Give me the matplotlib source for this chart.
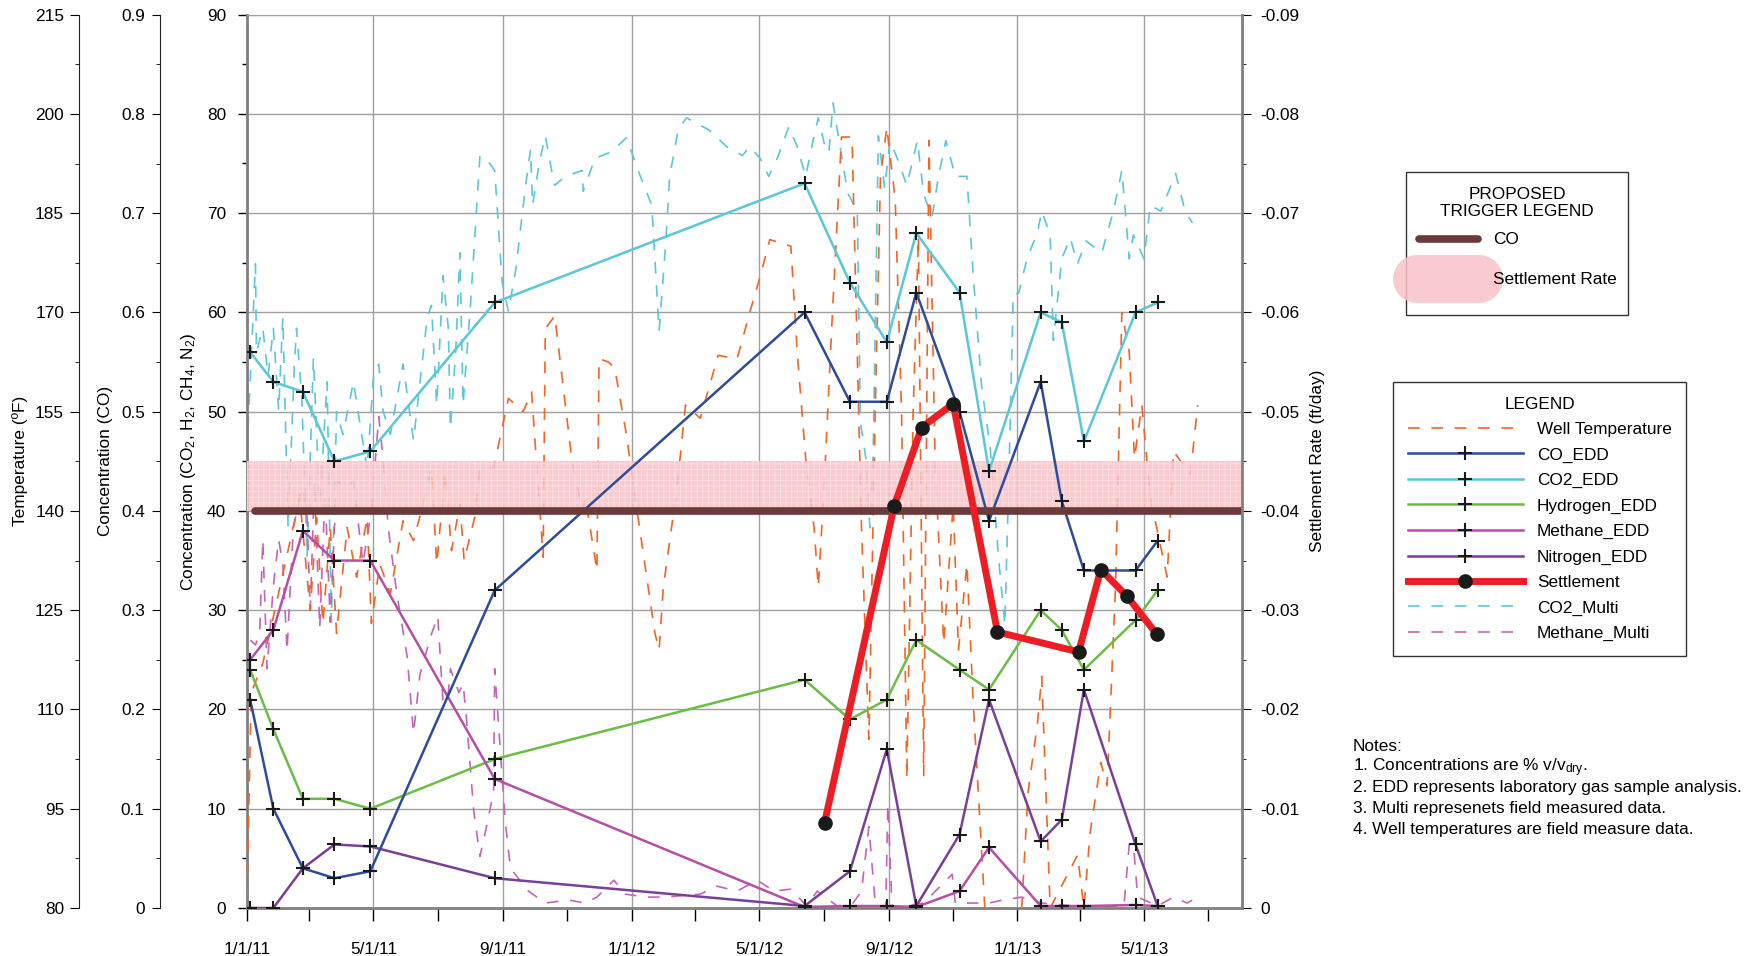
import matplotlib
matplotlib.use('Agg')
import matplotlib.pyplot as plt
import matplotlib.dates as mdates
from matplotlib.lines import Line2D
from matplotlib.patches import Rectangle
from matplotlib.ticker import MultipleLocator, FuncFormatter
import pandas as pd

plt.rcParams['font.family'] = ['Liberation Sans', 'DejaVu Sans']
plt.rcParams['mathtext.default'] = 'regular'
plt.rcParams['axes.unicode_minus'] = False
plt.rcParams['hatch.linewidth'] = 0.6

# ---- laboratory samples (EDD) ----
edd_dates = ['2011-01-04', '2011-01-26', '2011-02-23', '2011-03-25', '2011-04-28', '2011-08-24',
             '2012-06-13', '2012-07-26', '2012-08-30', '2012-09-27', '2012-11-07', '2012-12-05',
             '2013-01-23', '2013-02-12', '2013-03-05', '2013-04-23', '2013-05-14']
co_edd = [0.21, 0.10, 0.04, 0.03, 0.037, 0.32, 0.60, 0.51, 0.51, 0.62, 0.50, 0.39, 0.53, 0.41, 0.34, 0.34, 0.37]
co2_edd = [56, 53, 52, 45, 46, 61, 73, 63, 57, 68, 62, 44, 60, 59, 47, 60, 61]
h2_edd = [24, 18, 11, 11, 10, 15, 23, 19, 21, 27, 24, 22, 30, 28, 24, 29, 32]
ch4_edd = [25, 28, 38, 35, 35, 13, 0.1, 0.2, 0.2, 0.1, 1.7, 6.1, 0.2, 0.2, 0.2, 0.3, 0.2]
n2_edd = [0, 0, 4, 6.4, 6.2, 3, 0.2, 3.7, 16, 0.2, 7.4, 21, 6.7, 8.9, 22, 6.4, 0.2]

# ---- settlement rate (ft/day) ----
settle_dates = ['2012-07-02', '2012-09-06', '2012-10-02', '2012-11-01', '2012-12-13',
                '2013-02-28', '2013-03-21', '2013-04-15', '2013-05-13']
settle_rate = [-0.0086, -0.0405, -0.0484, -0.0508, -0.0278, -0.0258, -0.0341, -0.0314, -0.0276]

# ---- proposed triggers ----
co_trigger = 0.4
settle_trigger = (-0.045, -0.04)

# ---- field data, days after 1/1/11 ----
well_day = [0, 4, 15, 25, 50, 60, 66, 72, 79, 85, 95, 104, 114, 118, 126, 136, 148, 158, 171, 175,
            180, 188, 194, 202, 206, 216, 221, 234, 248, 262, 270, 275, 281, 283, 292, 308, 318, 321,
            332, 334, 343, 349, 360, 371, 387, 391, 395, 408, 416, 430, 447, 465, 477, 487, 496, 516,
            522, 530, 538, 542, 547, 555, 564, 574, 583, 590, 596, 601, 607, 615, 621, 626, 632, 637,
            642, 647, 653, 661, 670, 675, 683, 689, 700, 715, 735, 741, 750, 754, 762, 788, 794, 800,
            810, 816, 824, 830, 837, 842, 849, 857, 873, 879, 895, 902]
well_temp = [81.5, 112.5, 117, 124, 142, 125, 139, 123, 137.5, 121.5, 137.5, 130, 139, 123, 132, 127.5,
             138.5, 135.5, 143.5, 146.5, 132, 146, 134, 141, 132.5, 139, 146.5, 146.5, 157, 155, 158,
             146.5, 133, 167.5, 169.5, 148, 140, 142, 131, 163, 162.5, 161.5, 151.5, 139, 121.5, 119,
             128.5, 143.5, 156, 154, 163.5, 163, 170, 175.5, 181, 180, 164, 148, 137.5, 128.5, 142,
             168.5, 196.5, 196.5, 137.5, 105.5, 155, 190.5, 198, 187, 155, 99.5, 155, 181.5, 100, 196,
             146.5, 120, 141, 119, 132, 111, 80, 80, 80, 97.5, 108, 115, 80, 88, 80, 91.5, 102, 98.5,
             128.5, 170, 164, 148, 156, 142, 130, 149, 145.5, 156]

co2_multi_day = [0, 3, 8, 9, 15, 20, 25, 30, 34, 39, 45, 47, 52, 57, 63, 69, 76, 80, 85, 91, 101, 107,
                 114, 120, 125, 129, 136, 148, 158, 171, 175, 180, 186, 191, 193, 198, 202, 205, 212,
                 221, 229, 235, 242, 248, 255, 264, 269, 271, 277, 283, 289, 292, 302, 318, 319, 330,
                 346, 360, 371, 384, 391, 397, 401, 409, 417, 438, 455, 470, 477, 487, 495, 503, 514,
                 522, 530, 538, 542, 549, 552, 556, 560, 570, 579, 582, 587, 591, 594, 599, 605, 610,
                 617, 626, 636, 642, 650, 656, 663, 672, 683, 689, 697, 705, 713, 719, 723, 727, 732,
                 740, 750, 754, 762, 765, 773, 781, 788, 796, 811, 822, 830, 837, 841, 851, 857, 867,
                 881, 890, 897]
co2_multi = [46, 53, 64.9, 56, 58.4, 53.6, 58.4, 50.1, 59.5, 38.3, 54.8, 58.4, 51.3, 35.3, 55.4, 40.6,
             53, 28.8, 50, 47.7, 53, 48.9, 44.2, 53.6, 54.8, 50.1, 47.7, 54.8, 47.1, 59.5, 60.7, 50.7,
             63.7, 58.4, 48.3, 56, 66, 50.7, 60.7, 75.8, 75.2, 74.3, 63.1, 60.1, 64.3, 72.5, 76.4, 70.8,
             74.9, 77.8, 74.3, 72.8, 73.7, 74.3, 72.2, 75.5, 76.2, 77.6, 74.3, 70.8, 58.1, 66.6, 73.7,
             78.4, 79.6, 78.4, 76.7, 75.8, 76.7, 75.5, 73.7, 75.5, 78.7, 76.7, 73.7, 77.8, 79.6, 76.4,
             76.1, 81.1, 78.4, 72, 70.2, 48.9, 45.4, 38.3, 45.4, 77.8, 72.5, 77.3, 75.5, 72.8, 77.3,
             71.9, 69.6, 73.7, 77.3, 73.7, 73.7, 63.7, 52.5, 46.5, 35.3, 28.5, 44.2, 61.9, 61.9, 65.4,
             68.1, 70.2, 67.8, 57.2, 65.4, 67.5, 64.9, 67.2, 66, 70.2, 74.3, 65.4, 67.8, 65.4, 70.8,
             70.2, 74, 70.2, 69]

ch4_multi_day = [0, 3, 8, 12, 15, 19, 25, 30, 34, 38, 44, 52, 57, 60, 64, 69, 74, 79, 85, 95, 101, 110,
                 118, 125, 129, 134, 142, 152, 158, 164, 175, 181, 186, 191, 193, 201, 205, 208, 215,
                 221, 226, 234, 235, 240, 245, 250, 267, 283, 305, 321, 332, 348, 359, 378, 397, 430,
                 446, 465, 484, 500, 516, 531, 541, 560, 575, 583, 590, 596, 606, 608, 612, 642, 669,
                 672, 704, 717, 735, 754, 785, 832, 837, 841, 845, 864, 879, 892, 902]
ch4_multi = [24.7, 27, 26.5, 27.6, 37.1, 24.1, 32.4, 37.1, 34.7, 25.9, 38.3, 42.4, 39.5, 30, 43, 28.2,
             41.8, 28.8, 43, 42.4, 43, 34.7, 40, 49.5, 45.4, 38.3, 31.8, 25.3, 17.6, 23.5, 27.6, 29.4,
             20.6, 21.7, 24.1, 21.7, 22.6, 19.4, 9.9, 5.2, 7.6, 11.7, 24.1, 16.4, 8.7, 4, 1.7, 0.5, 0.8,
             0.5, 1.1, 2.8, 1.4, 1.1, 1.1, 1.4, 2.2, 1.7, 2.8, 1.7, 1.9, 0.2, 1.7, 0.2, 0.5, 1.7, 8.2,
             0.5, 0, 10.5, 0, 0.5, 3.4, 0.5, 0.5, 0.8, 1.1, 0.5, 0.2, 0.2, 6.4, 6.4, 1.1, 0.2, 1.1, 0.5,
             1.1]

notes = ['Notes:',
         '1. Concentrations are % v/v$_{dry}$.',
         '2. EDD represents laboratory gas sample analysis.',
         '3. Multi represenets field measured data.',
         '4. Well temperatures are field measure data.']

start = pd.Timestamp('2011-01-01')
def days_to_dates(days):
    return start + pd.to_timedelta(days, unit='D')

edd_t = pd.to_datetime(edd_dates)
settle_t = pd.to_datetime(settle_dates)

FS = 12.4
W, H = 1762, 956
c_orange = '#f26522'
c_cyan = '#5bc7da'
c_blue = '#2e4c9e'
c_green = '#6cbd45'
c_mag = '#b84ea6'
c_purple = '#7b3f99'
c_red = '#ee1d23'
c_mmulti = '#c565b8'
c_brown = '#6b3a3a'
c_pink = '#f9c2c6'
c_grid = '#a0a0a0'
dash = (0, (7, 7))

fig = plt.figure(figsize=(17.62, 9.56), dpi=100)
ax = fig.add_axes([247 / W, 48 / H, 995 / W, 893.4 / H])
ax.set_zorder(1)

ax_t = ax.twinx()
ax_band = ax.twinx()
ax_g = ax.twinx()
ax_co = ax.twinx()
ax_s = ax.twinx()
for i, a in enumerate([ax_t, ax_band, ax_g, ax_co, ax_s]):
    a.set_zorder(2 + i)

# main concentration axis
ax.set_xlim(pd.Timestamp('2011-01-01'), pd.Timestamp('2013-08-02'))
ax.set_ylim(0, 90)
ax.yaxis.set_major_locator(MultipleLocator(10))
ax.yaxis.set_minor_locator(MultipleLocator(5))
ax.xaxis.set_major_locator(mdates.MonthLocator(bymonth=[1, 5, 9]))
ax.xaxis.set_minor_locator(mdates.MonthLocator(bymonth=[3, 7, 11]))

def date_fmt(v, pos):
    d = mdates.num2date(v)
    return f'{d.month}/{d.day}/{d.year % 100}'

ax.xaxis.set_major_formatter(FuncFormatter(date_fmt))
ax.grid(True, which='major', color=c_grid, lw=1.0)
ax.set_axisbelow(True)
ax.tick_params(axis='x', which='both', direction='out', length=9.5, width=1, pad=15, labelsize=FS)
ax.tick_params(axis='y', which='major', direction='out', length=6.5, width=1, pad=8.5, labelsize=FS)
ax.tick_params(axis='y', which='minor', direction='out', length=3.5, width=1)
for s in ['left', 'bottom']:
    ax.spines[s].set_color('#808080')
    ax.spines[s].set_linewidth(2)
ax.spines['top'].set_color(c_grid)
ax.spines['right'].set_visible(False)
ax.set_ylabel('Concentration (CO$_2$, H$_2$, CH$_4$, N$_2$)', fontsize=FS)
ax.yaxis.set_label_coords(-0.0492, 0.5)

def left_axis(a, pos):
    for s in ['right', 'top', 'bottom']:
        a.spines[s].set_visible(False)
    a.spines['left'].set_position(('axes', pos))
    a.spines['left'].set_color('#222222')
    a.yaxis.set_ticks_position('left')
    a.yaxis.set_label_position('left')

# temperature axis
left_axis(ax_t, -0.1688)
ax_t.set_ylim(80, 215)
ax_t.yaxis.set_major_locator(MultipleLocator(15, offset=80))
ax_t.yaxis.set_minor_locator(MultipleLocator(7.5, offset=80))
ax_t.tick_params(axis='y', which='major', length=6.5, pad=4.3, labelsize=FS)
ax_t.tick_params(axis='y', which='minor', length=3.2)
ax_t.set_ylabel('Temperature (ºF)', fontsize=FS)
ax_t.yaxis.set_label_coords(-0.2201, 0.5)

# CO axis
left_axis(ax_co, -0.0874)
ax_co.set_ylim(0, 0.9)
ax_co.yaxis.set_major_locator(MultipleLocator(0.1))
ax_co.yaxis.set_minor_locator(MultipleLocator(0.05))
ax_co.yaxis.set_major_formatter(FuncFormatter(lambda v, p: '0' if abs(v) < 1e-9 else f'{v:.1f}'))
ax_co.tick_params(axis='y', which='major', length=6, pad=5, labelsize=FS)
ax_co.tick_params(axis='y', which='minor', length=3.2)
ax_co.set_ylabel('Concentration (CO)', fontsize=FS)
ax_co.yaxis.set_label_coords(-0.1342, 0.5)

# settlement axis
for s in ['left', 'top', 'bottom']:
    ax_s.spines[s].set_visible(False)
ax_s.spines['right'].set_color('#808080')
ax_s.spines['right'].set_linewidth(2)
ax_s.set_ylim(0, -0.09)
ax_s.yaxis.set_major_locator(MultipleLocator(0.01))
ax_s.yaxis.set_minor_locator(MultipleLocator(0.005))
ax_s.yaxis.set_major_formatter(FuncFormatter(lambda v, p: '0' if abs(v) < 1e-9 else f'{v:.2f}'))
ax_s.tick_params(axis='y', which='major', length=6.5, pad=6.5, labelsize=FS)
ax_s.tick_params(axis='y', which='minor', length=3.2)
ax_s.set_ylabel('Settlement Rate (ft/day)', fontsize=FS)
ax_s.yaxis.set_label_coords(1.0683, 0.5)

ax_band.set_ylim(0, -0.09)
ax_band.set_axis_off()
ax_g.set_ylim(0, 90)
ax_g.set_axis_off()

# field measurements (dashed)
ln_co2m, = ax.plot(days_to_dates(co2_multi_day), co2_multi, color=c_cyan, lw=1.2, ls=dash)
ln_ch4m, = ax.plot(days_to_dates(ch4_multi_day), ch4_multi, color=c_mmulti, lw=1.2, ls=dash)
ln_well, = ax_t.plot(days_to_dates(well_day), well_temp, color=c_orange, lw=1.2, ls=dash)

# settlement trigger band
ax_band.axhspan(settle_trigger[0], settle_trigger[1], facecolor=c_pink, edgecolor='#fde4e6',
                hatch='+++', lw=0, alpha=0.85)

# laboratory gas samples
mk = dict(marker='+', ms=10, mew=1.5, mec='#1a1a1a')
ln_co2, = ax_g.plot(edd_t, co2_edd, color=c_cyan, lw=1.8, **mk)
ln_h2, = ax_g.plot(edd_t, h2_edd, color=c_green, lw=1.8, **mk)
ln_ch4, = ax_g.plot(edd_t, ch4_edd, color=c_mag, lw=1.8, **mk)
ln_n2, = ax_g.plot(edd_t, n2_edd, color=c_purple, lw=1.8, **mk)
ln_co, = ax_co.plot(edd_t, co_edd, color=c_blue, lw=1.8, **mk)

# CO trigger line
ax_co.axhline(co_trigger, xmin=0.008, xmax=1, color=c_brown, lw=5.5, solid_capstyle='round')

# settlement
ln_set, = ax_s.plot(settle_t, settle_rate, color=c_red, lw=5, marker='o', ms=9.5,
                    mfc='#1a1a1a', mec='#1a1a1a')

handles = [ln_well, ln_co, ln_co2, ln_h2, ln_ch4, ln_n2, ln_set, ln_co2m, ln_ch4m]
labels = ['Well Temperature', 'CO_EDD', 'CO2_EDD', 'Hydrogen_EDD', 'Methane_EDD',
          'Nitrogen_EDD', 'Settlement', 'CO2_Multi', 'Methane_Multi']
leg = ax_s.legend(handles, labels, title='LEGEND', loc='upper left',
                  bbox_to_anchor=(1393 / W, 1 - 382 / H), bbox_transform=fig.transFigure,
                  borderaxespad=0, fancybox=False, edgecolor='#333333', fontsize=FS,
                  title_fontsize=FS, handlelength=6.7, handletextpad=0.8, labelspacing=0.6,
                  borderpad=0.85, framealpha=1)
leg.get_frame().set_linewidth(1)

# proposed trigger legend box
fig.add_artist(Rectangle((1406 / W, 1 - 315 / H), 222 / W, 143 / H, transform=fig.transFigure,
                         facecolor='white', edgecolor='#333333', lw=1, zorder=8))
fig.text(1517 / W, 1 - 203 / H, 'PROPOSED\nTRIGGER LEGEND', ha='center', va='center',
         multialignment='center', fontsize=FS, linespacing=1.15, zorder=9)
fig.add_artist(Line2D([1419 / W, 1478 / W], [1 - 239 / H] * 2, transform=fig.transFigure,
                      color=c_brown, lw=5.5, solid_capstyle='round', zorder=9))
fig.add_artist(Line2D([1417 / W, 1479 / W], [1 - 279 / H] * 2, transform=fig.transFigure,
                      color=c_pink, lw=34.5, solid_capstyle='round', alpha=0.85, zorder=9))
fig.text(1493 / W, 1 - 239 / H, 'CO', ha='left', va='center', fontsize=FS, zorder=10)
fig.text(1493 / W, 1 - 279 / H, 'Settlement Rate', ha='left', va='center', fontsize=FS, zorder=10)

for i, line in enumerate(notes):
    fig.text(1353 / W, 1 - (751 + 20.7 * i) / H, line, ha='left', va='baseline', fontsize=FS)

fig.savefig('out.png', dpi=100)
